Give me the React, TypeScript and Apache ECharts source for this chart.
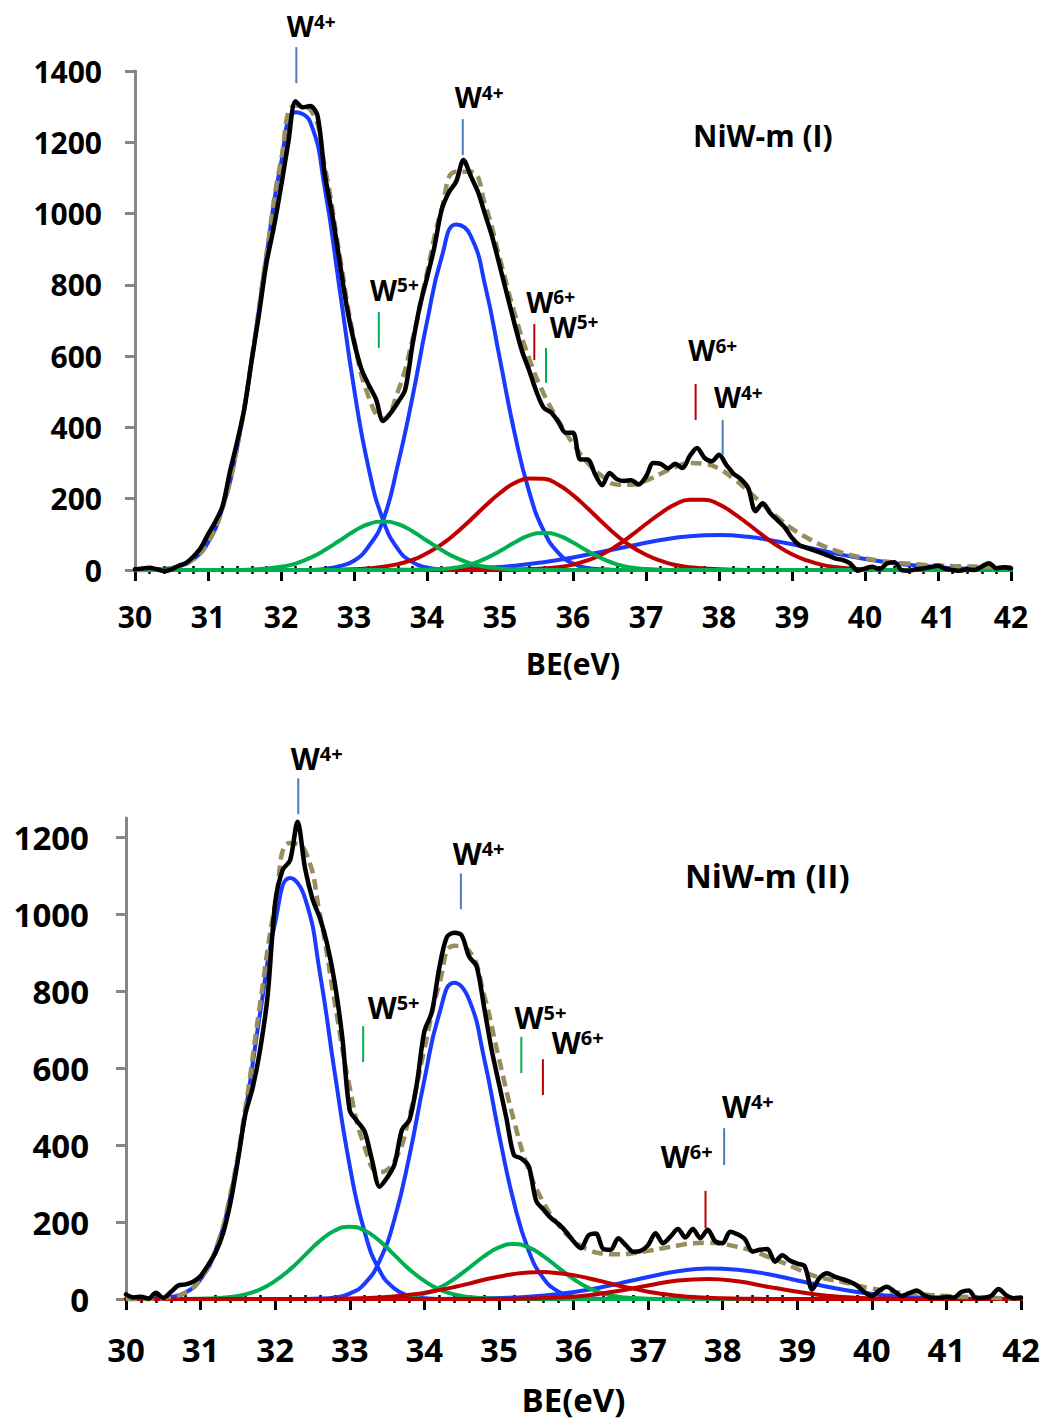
import React, { useEffect, useRef } from 'react';
import * as echarts from 'echarts';

const FONT = '"Open Sans", "Noto Sans", sans-serif';

// Binding energy grids (eV)
const energyFine = [
  30, 30.1, 30.2, 30.3, 30.4, 30.5, 30.6, 30.7, 30.8, 30.9,
  31, 31.1, 31.2, 31.3, 31.4, 31.5, 31.6, 31.7, 31.8, 31.9,
  32, 32.1, 32.2, 32.3, 32.4, 32.5, 32.6, 32.7, 32.8, 32.9,
  33, 33.1, 33.2, 33.3, 33.4, 33.5, 33.6, 33.7, 33.8, 33.9,
  34, 34.1, 34.2, 34.3, 34.4, 34.5, 34.6, 34.7, 34.8, 34.9,
  35, 35.1, 35.2, 35.3, 35.4, 35.5, 35.6, 35.7, 35.8, 35.9,
  36, 36.1, 36.2, 36.3, 36.4, 36.5, 36.6, 36.7, 36.8, 36.9,
  37, 37.1, 37.2, 37.3, 37.4, 37.5, 37.6, 37.7, 37.8, 37.9,
  38, 38.1, 38.2, 38.3, 38.4, 38.5, 38.6, 38.7, 38.8, 38.9,
  39, 39.1, 39.2, 39.3, 39.4, 39.5, 39.6, 39.7, 39.8, 39.9,
  40, 40.1, 40.2, 40.3, 40.4, 40.5, 40.6, 40.7, 40.8, 40.9,
  41, 41.1, 41.2, 41.3, 41.4, 41.5, 41.6, 41.7, 41.8, 41.9,
  42,
];
const energyCoarse = [
  30, 30.2, 30.4, 30.6, 30.8, 31, 31.2, 31.4, 31.6, 31.8,
  32, 32.2, 32.4, 32.6, 32.8, 33, 33.2, 33.4, 33.6, 33.8,
  34, 34.2, 34.4, 34.6, 34.8, 35, 35.2, 35.4, 35.6, 35.8,
  36, 36.2, 36.4, 36.6, 36.8, 37, 37.2, 37.4, 37.6, 37.8,
  38, 38.2, 38.4, 38.6, 38.8, 39, 39.2, 39.4, 39.6, 39.8,
  40, 40.2, 40.4, 40.6, 40.8, 41, 41.2, 41.4, 41.6, 41.8,
  42,
];

// ---------- Panel I : NiW-m (I) ----------
const topMeasured = [
  2, 4, 6, 2, -3, 2, 12, 20, 38, 62,
  100, 135, 180, 275, 360, 455, 590, 720, 860, 960,
  1075, 1200, 1315, 1298, 1302, 1275, 1110, 1000, 870, 740,
  640, 565, 520, 480, 418, 440, 470, 505, 630, 739,
  820, 905, 1010, 1060, 1090, 1150, 1105, 1060, 995, 930,
  850, 770, 690, 615, 560, 500, 455, 442, 415, 385,
  385, 310, 310, 270, 238, 272, 255, 250, 252, 240,
  262, 300, 298, 285, 298, 286, 320, 342, 315, 305,
  323, 295, 270, 255, 230, 165, 187, 160, 140, 120,
  90, 70, 62, 55, 48, 40, 32, 28, 18, -2,
  4, 9, 2, 18, 22, 0, -2, 2, 4, 8,
  12, 3, 0, -2, 2, 0, 10, 19, 5, 8,
  5,
];
const topEnvelope = [
  0, 0, 3, 10, 30, 77, 175, 346, 593, 884,
  1149, 1303, 1292, 1131, 887, 647, 486, 424, 500, 645,
  834, 1012, 1117, 1117, 1022, 872, 720, 593, 494, 419,
  355, 301, 263, 240, 239, 251, 270, 289, 300, 298,
  284, 256, 222, 184, 148, 116, 91, 70, 54, 42,
  33, 26, 21, 18, 15, 13, 11, 10, 9, 8,
  8,
];
const topW4Blue1 = [[30, 0], [30.2, 0], [30.4, 3], [30.6, 10], [30.8, 30], [31, 77], [31.2, 175], [31.4, 345], [31.6, 591], [31.8, 880], [32, 1140], [32.2, 1284], [32.4, 1257], [32.6, 1071], [32.8, 793], [33, 510], [33.2, 286], [33.4, 139], [33.6, 59], [33.8, 22], [34, 7], [34.2, 2], [34.4, 0], [42, 0]];
const topW4Blue2 = [[30, 0], [32.4, 0], [32.6, 3], [32.8, 11], [33, 26], [33.2, 66], [33.4, 140], [33.6, 295], [33.8, 484], [34, 696], [34.2, 877], [34.4, 969], [34.6, 937], [34.8, 795], [35, 590], [35.2, 384], [35.4, 219], [35.6, 109], [35.8, 48], [36, 18], [36.2, 6], [36.4, 2], [36.6, 0], [42, 0]];
const topW4Blue3 = [[30, 0], [33.2, 0], [33.6, 0.5], [34, 1.4], [34.4, 3], [34.8, 6], [35.2, 12], [35.6, 22], [36, 35], [36.4, 51], [36.8, 68], [37.2, 84], [37.6, 95], [38, 98], [38.4, 93], [38.8, 80], [39.2, 64], [39.6, 46], [40, 31], [40.4, 19], [40.8, 11], [41.2, 5], [41.6, 3], [42, 1]];
const topW5Green1 = [[30, 0], [31.4, 0], [31.6, 1.5], [31.8, 4], [32, 9], [32.2, 18], [32.4, 34], [32.6, 56], [32.8, 82], [33, 109], [33.2, 129], [33.4, 136], [33.6, 129], [33.8, 109], [34, 82], [34.2, 56], [34.4, 34], [34.6, 18], [34.8, 9], [35, 4], [35.2, 1.5], [35.4, 0], [42, 0]];
const topW5Green2 = [[30, 0], [33.8, 0], [34, 1], [34.2, 3], [34.4, 7], [34.6, 16], [34.8, 32], [35, 53], [35.2, 77], [35.4, 97], [35.6, 104], [35.8, 97], [36, 77], [36.2, 53], [36.4, 32], [36.6, 16], [36.8, 7], [37, 3], [37.2, 1], [37.4, 0], [42, 0]];
const topW6Red1 = [[30, 0], [32.4, 0], [32.6, 0.4], [33, 2], [33.4, 9], [33.8, 28], [34, 47], [34.2, 72], [34.4, 104], [34.6, 141], [34.8, 180], [35, 216], [35.2, 244], [35.4, 257], [35.6, 256], [35.8, 239], [36, 210], [36.2, 173], [36.4, 134], [36.6, 97], [36.8, 66], [37, 43], [37.2, 26], [37.4, 14], [37.6, 8], [38, 2], [38.4, 0], [42, 0]];
const topW6Red2 = [[30, 0], [35, 0], [35.2, 1], [35.6, 4], [35.8, 8], [36, 15], [36.2, 27], [36.4, 44], [36.6, 68], [36.8, 97], [37, 129], [37.2, 159], [37.4, 184], [37.6, 197], [37.8, 197], [38, 184], [38.2, 159], [38.4, 129], [38.6, 97], [38.8, 68], [39, 44], [39.2, 27], [39.4, 15], [39.6, 8], [39.8, 4], [40.2, 1], [40.4, 0], [42, 0]];

// ---------- Panel II : NiW-m (II) ----------
const botMeasured = [
  12, 4, 6, 1, 16, 3, 18, 35, 38, 45,
  60, 88, 120, 170, 250, 360, 480, 550, 650, 790,
  1030, 1115, 1140, 1240, 1120, 1040, 990, 920, 820, 680,
  490, 462, 435, 360, 292, 315, 350, 440, 465, 560,
  695, 745, 860, 940, 952, 945, 890, 865, 760, 650,
  560, 470, 375, 365, 345, 255, 232, 210, 195, 175,
  150, 132, 165, 170, 130, 128, 158, 140, 123, 125,
  140, 171, 145, 162, 182, 160, 182, 158, 180, 150,
  145, 175, 168, 155, 123, 128, 130, 97, 114, 100,
  92, 85, 25, 55, 67, 58, 52, 45, 35, 18,
  8, 22, 32, 20, 8, 15, 22, 10, 3, 3,
  5, 4, 18, 22, 2, 3, 8, 26, 10, 2,
  4,
];
const botEnvelope = [
  0, 0, 1, 5, 17, 52, 128, 273, 496, 770,
  1025, 1185, 1165, 999, 769, 549, 395, 329, 358, 475,
  649, 818, 918, 905, 791, 625, 465, 335, 250, 192,
  152, 128, 118, 116, 119, 125, 132, 139, 145, 146,
  143, 135, 125, 110, 95, 78, 62, 52, 45, 35,
  27, 21, 16, 13, 10, 8, 6, 4, 3, 2,
  2,
];
const botW4Blue1 = [[30, 0], [30.2, 0], [30.4, 1], [30.6, 5], [30.8, 17], [31, 51], [31.2, 126], [31.4, 268], [31.6, 484], [31.8, 745], [32, 978], [32.2, 1094], [32.4, 1042], [32.6, 847], [32.8, 586], [33, 346], [33.2, 174], [33.4, 74], [33.6, 27], [33.8, 8], [34, 2], [34.2, 0], [42, 0]];
const botW4Blue2 = [[30, 0], [32.4, 0], [32.6, 1], [32.8, 4], [33, 14], [33.2, 40], [33.4, 99], [33.6, 208], [33.8, 372], [34, 569], [34.2, 741], [34.4, 822], [34.6, 778], [34.8, 627], [35, 430], [35.2, 252], [35.4, 125], [35.6, 53], [35.8, 19], [36, 6], [36.2, 2], [36.4, 0], [42, 0]];
const botW4Blue3 = [[30, 0], [33.4, 0], [33.8, 0.1], [34.2, 0.3], [34.6, 1], [35, 2.5], [35.4, 6], [35.8, 13], [36.2, 24], [36.6, 40], [37, 57], [37.4, 72], [37.8, 79.5], [38.2, 76], [38.6, 65], [39, 48], [39.4, 32], [39.8, 18], [40.2, 9], [40.6, 4], [41, 1.5], [41.4, 0.5], [42, 0.1]];
const botW5Green1 = [[30, 0], [30.8, 0], [31, 0.7], [31.2, 2], [31.4, 5], [31.6, 12], [31.8, 25], [32, 47], [32.2, 77], [32.4, 114], [32.6, 151], [32.8, 178], [33, 188], [33.2, 178], [33.4, 151], [33.6, 114], [33.8, 77], [34, 47], [34.2, 25], [34.4, 12], [34.6, 5], [34.8, 2], [35, 0.7], [35.2, 0], [42, 0]];
const botW5Green2 = [[30, 0], [33.2, 0], [33.4, 0.8], [33.6, 2.4], [33.8, 6], [34, 14], [34.2, 29], [34.4, 52], [34.6, 81], [34.8, 111], [35, 134], [35.2, 143], [35.4, 134], [35.6, 111], [35.8, 81], [36, 52], [36.2, 29], [36.4, 14], [36.6, 6], [36.8, 2.4], [37, 0.8], [37.2, 0], [42, 0]];
const botW6Red1 = [[30, 0], [32.2, 0], [32.6, 0.3], [33, 1.3], [33.4, 4], [33.8, 11], [34, 16], [34.2, 23], [34.4, 31], [34.6, 40], [34.8, 50], [35, 58], [35.2, 65], [35.4, 69], [35.6, 70], [35.8, 67], [36, 62], [36.2, 54], [36.4, 45], [36.6, 35], [36.8, 27], [37, 19], [37.2, 13], [37.4, 8.5], [37.6, 5], [38, 1.7], [38.4, 0.5], [38.8, 0], [42, 0]];
const botW6Red2 = [[30, 0], [35, 0], [35.4, 1], [35.8, 4], [36.2, 10], [36.6, 21], [37, 35], [37.4, 48], [37.8, 52], [38.2, 46], [38.6, 32], [39, 19], [39.4, 8.5], [39.8, 3], [40.2, 1], [40.6, 0], [42, 0]];

// Axis ticks
const xTicks = [30, 31, 32, 33, 34, 35, 36, 37, 38, 39, 40, 41, 42];
const topYTicks = [0, 200, 400, 600, 800, 1000, 1200, 1400];
const botYTicks = [0, 200, 400, 600, 800, 1000, 1200];

// Colours
const BLUE = '#1A3BFF';
const GREEN = '#00B050';
const RED = '#C00000';
const ENVELOPE = '#978D5E';
const TICK_BLUE = '#4A7EBB';

// Oxidation-state annotations (data coordinates)
const topNotes = [
  { sup: '4+', color: TICK_BLUE, e: 32.21, vLow: 1366, vHigh: 1467, textE: 32.08, textV: 1526 },
  { sup: '4+', color: TICK_BLUE, e: 34.49, vLow: 1164, vHigh: 1265, textE: 34.38, textV: 1326 },
  { sup: '5+', color: GREEN, e: 33.34, vLow: 623, vHigh: 724, textE: 33.22, textV: 786 },
  { sup: '6+', color: RED, e: 35.47, vLow: 589, vHigh: 690, textE: 35.36, textV: 752 },
  { sup: '5+', color: GREEN, e: 35.63, vLow: 525, vHigh: 623, textE: 35.68, textV: 682 },
  { sup: '6+', color: RED, e: 37.68, vLow: 421, vHigh: 522, textE: 37.58, textV: 617 },
  { sup: '4+', color: TICK_BLUE, e: 38.05, vLow: 323, vHigh: 421, textE: 37.93, textV: 484 },
];
const botNotes = [
  { sup: '4+', color: TICK_BLUE, e: 32.31, vLow: 1260, vHigh: 1353, textE: 32.21, textV: 1405 },
  { sup: '4+', color: TICK_BLUE, e: 34.49, vLow: 1013, vHigh: 1106, textE: 34.38, textV: 1158 },
  { sup: '5+', color: GREEN, e: 33.18, vLow: 616, vHigh: 709, textE: 33.24, textV: 758 },
  { sup: '5+', color: GREEN, e: 35.3, vLow: 587, vHigh: 681, textE: 35.21, textV: 731 },
  { sup: '6+', color: RED, e: 35.59, vLow: 530, vHigh: 623, textE: 35.71, textV: 666 },
  { sup: '4+', color: TICK_BLUE, e: 38.02, vLow: 348, vHigh: 444, textE: 37.99, textV: 500 },
  { sup: '6+', color: RED, e: 37.77, vLow: 184, vHigh: 281, textE: 37.17, textV: 370 },
];

const zip = (xs: number[], ys: number[]) => xs.map((x, i) => [x, ys[i]]);

function lineSeries(data: any[], color: string, width: number, xi: number, yi: number, extra: any = {}) {
  return {
    type: 'line',
    data,
    xAxisIndex: xi,
    yAxisIndex: yi,
    showSymbol: false,
    symbol: 'none',
    smooth: 0.5,
    clip: false,
    silent: true,
    lineStyle: { color, width, cap: 'round', join: 'round' },
    ...extra,
  };
}

function xAxes(grid: number, fontSize: number, margin: number, nameGap: number) {
  const main = {
    type: 'value',
    gridIndex: grid,
    min: 30,
    max: 42,
    interval: 1,
    position: 'bottom',
    axisLine: { show: true, onZero: false, lineStyle: { color: '#868686', width: 2.5 } },
    axisTick: { show: true, length: 11, lineStyle: { color: '#000', width: 3 }, customValues: xTicks },
    minorTick: { show: true, splitNumber: 5, length: 4, lineStyle: { color: '#000', width: 2.5 } },
    axisLabel: { color: '#000', fontSize, fontWeight: 'bold', fontFamily: FONT, margin, customValues: xTicks, formatter: (v: number) => String(v) },
    splitLine: { show: false },
    name: 'BE(eV)',
    nameLocation: 'middle',
    nameGap,
    nameTextStyle: { color: '#000', fontSize, fontWeight: 'bold', fontFamily: FONT },
  };
  const inner = {
    type: 'value',
    gridIndex: grid,
    min: 30,
    max: 42,
    interval: 1,
    position: 'bottom',
    axisLine: { show: false },
    axisTick: { show: false, inside: true },
    minorTick: { show: true, splitNumber: 5, length: 4, lineStyle: { color: '#000', width: 2.5 } },
    axisLabel: { show: false },
    splitLine: { show: false },
  };
  return [main, inner];
}

function yAxis(grid: number, max: number, ticks: number[], fontSize: number, margin: number) {
  return {
    type: 'value',
    gridIndex: grid,
    min: 0,
    max,
    interval: 200,
    axisLine: { show: true, lineStyle: { color: '#868686', width: 3 } },
    axisTick: { show: true, length: 10, lineStyle: { color: '#868686', width: 3 }, customValues: ticks },
    axisLabel: {
      color: '#000', fontSize, fontWeight: 'bold', fontFamily: FONT, margin, customValues: ticks,
      formatter: (v: number) => String(v),
    },
    splitLine: { show: false },
  };
}

function panelSeries(
  xi: number, yi: number,
  blues: number[][][], greens: number[][][], reds: number[][][],
  envelope: number[], measured: number[], redOnTop: boolean,
) {
  const s: any[] = [];
  blues.forEach((d) => s.push(lineSeries(d, BLUE, 4, xi, yi)));
  const g = greens.map((d) => lineSeries(d, GREEN, 4, xi, yi));
  const r = reds.map((d) => lineSeries(d, RED, 4, xi, yi));
  if (redOnTop) s.push(...g, ...r); else s.push(...r, ...g);
  s.push(lineSeries(zip(energyCoarse, envelope), ENVELOPE, 4, xi, yi, {
    lineStyle: { color: ENVELOPE, width: 4.5, type: [11, 6] },
  }));
  s.push(lineSeries(zip(energyFine, measured), '#000', 4.5, xi, yi, { smooth: 0.3 }));
  return s;
}

export default function App() {
  const ref = useRef<HTMLDivElement>(null);
  useEffect(() => {
    const chart = echarts.init(ref.current!, null, { renderer: 'svg' });
    const option: any = {
      animation: false,
      backgroundColor: '#fff',
      grid: [
        { left: 135, top: 71, width: 876, height: 499, containLabel: false },
        { left: 126, top: 818, width: 895, height: 481, containLabel: false },
      ],
      xAxis: [...xAxes(0, 30, 31, 78), ...xAxes(1, 33, 34, 84)],
      yAxis: [yAxis(0, 1400, topYTicks, 30, 33), yAxis(1, 1250, botYTicks, 33, 37)],
      series: [
        ...panelSeries(0, 0, [topW4Blue1, topW4Blue2, topW4Blue3], [topW5Green1, topW5Green2], [topW6Red1, topW6Red2], topEnvelope, topMeasured, false),
        ...panelSeries(2, 1, [botW4Blue1, botW4Blue2, botW4Blue3], [botW5Green1, botW5Green2], [botW6Red1, botW6Red2], botEnvelope, botMeasured, true),
      ],
    };
    chart.setOption(option);

    const graphics: any[] = [];
    const addNotes = (notes: typeof topNotes, xi: number, yi: number, size: number) => {
      notes.forEach((n) => {
        const p1 = chart.convertToPixel({ xAxisIndex: xi, yAxisIndex: yi }, [n.e, n.vHigh]) as number[];
        const p2 = chart.convertToPixel({ xAxisIndex: xi, yAxisIndex: yi }, [n.e, n.vLow]) as number[];
        const pt = chart.convertToPixel({ xAxisIndex: xi, yAxisIndex: yi }, [n.textE, n.textV]) as number[];
        graphics.push({
          type: 'line',
          z: 100,
          shape: { x1: p1[0], y1: p1[1], x2: p2[0], y2: p2[1] },
          style: { stroke: n.color, lineWidth: 2 },
        });
        graphics.push({
          type: 'text',
          z: 100,
          x: pt[0],
          y: pt[1],
          style: {
            text: `{w|W}{s|${n.sup}}`,
            align: 'left',
            verticalAlign: 'middle',
            rich: {
              w: { fontSize: size, fontWeight: 'bold', fontFamily: FONT, fill: '#000', verticalAlign: 'bottom', lineHeight: size },
              s: { fontSize: Math.round(size * 0.68), fontWeight: 'bold', fontFamily: FONT, fill: '#000', verticalAlign: 'top' },
            },
          },
        });
      });
    };
    addNotes(topNotes, 0, 0, 28);
    addNotes(botNotes, 2, 1, 30);
    graphics.push({
      type: 'text', z: 100, x: 693, y: 135,
      style: { text: 'NiW-m (I)', fill: '#000', fontSize: 30, fontWeight: 'bold', fontFamily: FONT, align: 'left', verticalAlign: 'middle' },
    });
    graphics.push({
      type: 'text', z: 100, x: 685, y: 875,
      style: { text: 'NiW-m (II)', fill: '#000', fontSize: 33, fontWeight: 'bold', fontFamily: FONT, align: 'left', verticalAlign: 'middle' },
    });
    chart.setOption({ graphic: graphics });
    return () => chart.dispose();
  }, []);
  return (
    <div
      ref={ref}
      style={{ position: 'absolute', left: 0, top: 0, width: 1046, height: 1421, background: '#fff' }}
    />
  );
}
